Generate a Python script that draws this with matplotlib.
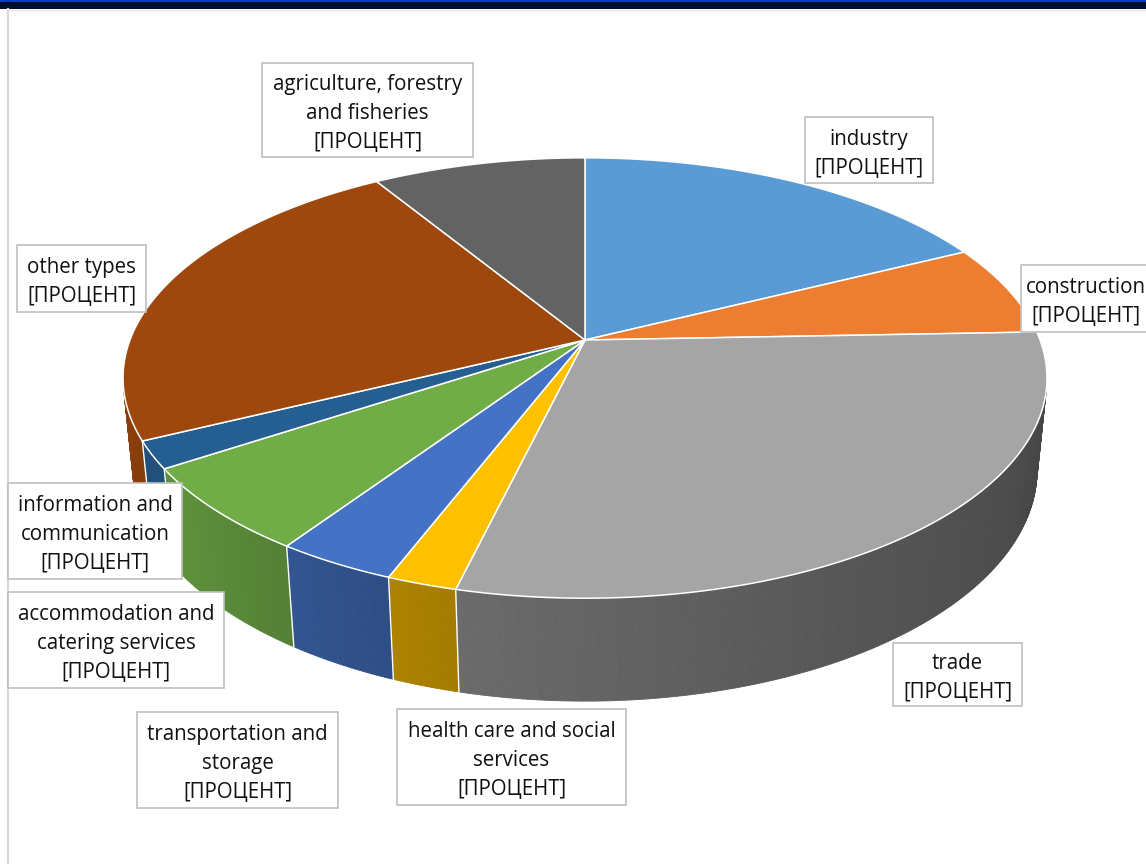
import numpy as np
import matplotlib.pyplot as plt
from matplotlib.patches import Polygon, Rectangle
from matplotlib.collections import PolyCollection

# data (shares, %)
sectors = ["industry", "construction", "trade", "health care and social services",
           "transportation and storage", "accommodation and catering services",
           "information and communication", "other types",
           "agriculture, forestry and fisheries"]
shares = [17.7, 6.7, 29.4, 2.1, 3.6, 6.3, 2.0, 23.4, 8.8]
colors = ["#5B9BD5", "#ED7D31", "#A5A5A5", "#FFC000", "#4472C4",
          "#70AD47", "#255E91", "#9E480E", "#636363"]
label_lines = [["industry"], ["construction"], ["trade"],
               ["health care and social", "services"],
               ["transportation and", "storage"],
               ["accommodation and", "catering services"],
               ["information and", "communication"],
               ["other types"],
               ["agriculture, forestry", "and fisheries"]]
value_text = "[ПРОЦЕНТ]"

# label boxes in pixels: left, top, right, bottom
boxes = [(805, 117, 933, 183), (1021, 265, 1150, 332), (893, 643, 1022, 706),
         (397, 709, 626, 805), (137, 712, 338, 808), (8, 592, 224, 688),
         (8, 483, 182, 579), (17, 245, 146, 312), (262, 63, 473, 157)]

# camera for the 3d pie
ELEV = np.radians(28.0)
DIST = 5.114
FOCAL = 2327.0
CX, CY = 585.0, 340.0
THICK = 0.231
S, C = np.sin(ELEV), np.cos(ELEV)


def project(theta, z):
    x = np.sin(theta)
    y = np.cos(theta)
    depth = DIST + y * C - z * S
    sx = x / depth
    sy = (y * S + z * C) / depth
    return CX + FOCAL * sx, CY - FOCAL * sy


def shade(theta):
    deg = np.degrees(theta)
    return np.interp(deg, [100, 150, 195, 210, 230, 260],
                     [0.41, 0.52, 0.65, 0.72, 0.82, 0.88])


def to_rgb(h):
    h = h.lstrip("#")
    return np.array([int(h[i:i + 2], 16) / 255 for i in (0, 2, 4)])


fig = plt.figure(figsize=(11.46, 8.64), dpi=100)
ax = fig.add_axes([0, 0, 1, 1])
ax.set_xlim(0, 1146)
ax.set_ylim(864, 0)
ax.axis("off")

# window frame bits
ax.add_patch(Rectangle((0, 0), 1146, 8.5, color="#000d2e", lw=0, zorder=1))
ax.add_patch(Rectangle((0, 0), 1146, 1.5, color="#0a3fc0", lw=0, zorder=1))
ax.plot([7.5, 7.5], [9, 864], color="#d9d9d9", lw=1.6, zorder=1)
ax.plot([8, 1146], [9.7, 9.7], color="#e3e3e3", lw=0.8, zorder=1)

total = sum(shares)
edges = np.concatenate([[0], np.cumsum(shares)]) * 2 * np.pi / total

# sides
strips, strip_cols = [], []
for i in range(len(shares)):
    a0, a1 = edges[i], edges[i + 1]
    n = max(2, int(np.degrees(a1 - a0) / 0.5))
    th = np.linspace(a0, a1, n + 1)
    base = to_rgb(colors[i])
    for t0, t1 in zip(th[:-1], th[1:]):
        tm = 0.5 * (t0 + t1)
        if -1 - DIST * C * np.cos(tm) <= -0.02:
            continue
        p = [project(t0, 0), project(t1, 0), project(t1, -THICK), project(t0, -THICK)]
        strips.append(p)
        strip_cols.append(np.clip(base * shade(tm), 0, 1))
ax.add_collection(PolyCollection(strips, facecolors=strip_cols, edgecolors=strip_cols,
                                 linewidths=0.6, zorder=2))

for a in edges:
    if -1 - DIST * C * np.cos(a) > 0:
        x0, y0 = project(a, 0)
        x1, y1 = project(a, -THICK)
        ax.plot([x0, x1], [y0, y1], color="white", lw=1.0, zorder=2.5)

# top face
for i in range(len(shares)):
    th = np.linspace(edges[i], edges[i + 1], 200)
    xs, ys = project(th, 0)
    pts = np.column_stack([np.r_[CX, xs], np.r_[CY, ys]])
    ax.add_patch(Polygon(pts, closed=True, facecolor=colors[i], edgecolor="white",
                         lw=1.1, joinstyle="round", zorder=3))

# labels
font = ["Open Sans", "DejaVu Sans"]
for lines, (l, t, r, b) in zip(label_lines, boxes):
    ax.add_patch(Rectangle((l, t), r - l, b - t, facecolor="white", edgecolor="#bfbfbf",
                           lw=1.2, zorder=5))
    rows = lines + [value_text]
    mid = 0.5 * (t + b)
    cx = 0.5 * (l + r)
    for k, row in enumerate(rows):
        yb = mid + (k - (len(rows) - 1) / 2) * 29 + 9
        ax.text(cx, yb, row, ha="center", va="baseline", fontsize=14.8,
                family=font, color="#111111", zorder=6)

fig.savefig("out.png", dpi=100)
